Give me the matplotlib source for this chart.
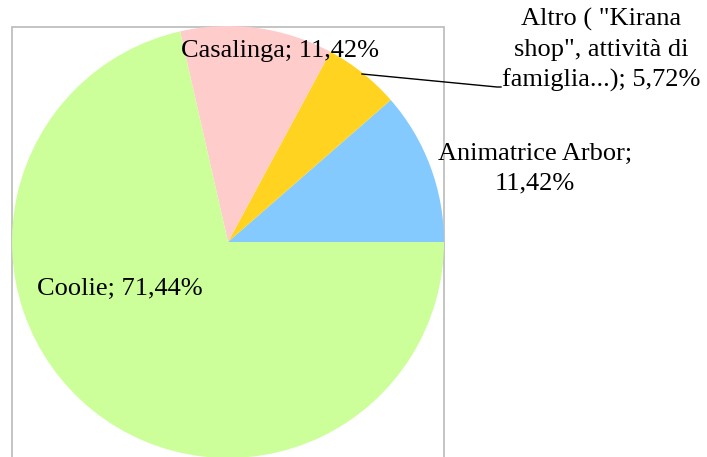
import matplotlib
matplotlib.use("Agg")
import matplotlib.pyplot as plt
from matplotlib.patches import Rectangle

categories = ["Animatrice Arbor", "Altro ( \"Kirana\nshop\", attività di\nfamiglia...)", "Casalinga", "Coolie"]
values = [11.42, 5.72, 11.42, 71.44]
label_texts = ["Animatrice Arbor;\n11,42%", "Altro ( \"Kirana\nshop\", attività di\nfamiglia...); 5,72%",
               "Casalinga; 11,42%", "Coolie; 71,44%"]
colors = ["#84CAFF", "#FFD320", "#FFCCCC", "#CCFF99"]

W, H = 707, 457
fig = plt.figure(figsize=(W / 100, H / 100), dpi=100)
ax = fig.add_axes([0, 0, 1, 1])

cx, cy, r = 228, H - 242, 216
wedges, _ = ax.pie(values, colors=colors, startangle=0, counterclock=True,
                   center=(cx, cy), radius=r, frame=False,
                   wedgeprops=dict(linewidth=0))
ax.set_xlim(0, W)
ax.set_ylim(0, H)
ax.set_aspect("equal")
ax.axis("off")

# chart frame
ax.add_patch(Rectangle((12, -10), 432, (H - 27) + 10, fill=False,
                       edgecolor="#BFBFBF", linewidth=1.3, zorder=0))

font = dict(family="Liberation Serif", fontsize=19, color="black")
pos = [(535, H - 169), (601, H - 50), (280, H - 51), (120, H - 289)]
for txt, (x, y) in zip(label_texts, pos):
    ax.text(x, y, txt, ha="center", va="center", linespacing=1.42, **font)

# leader line for Altro
ax.plot([501, 497, 362], [H - 87, H - 87, H - 74], color="black", linewidth=1.0)

fig.savefig("out.png", dpi=100)
